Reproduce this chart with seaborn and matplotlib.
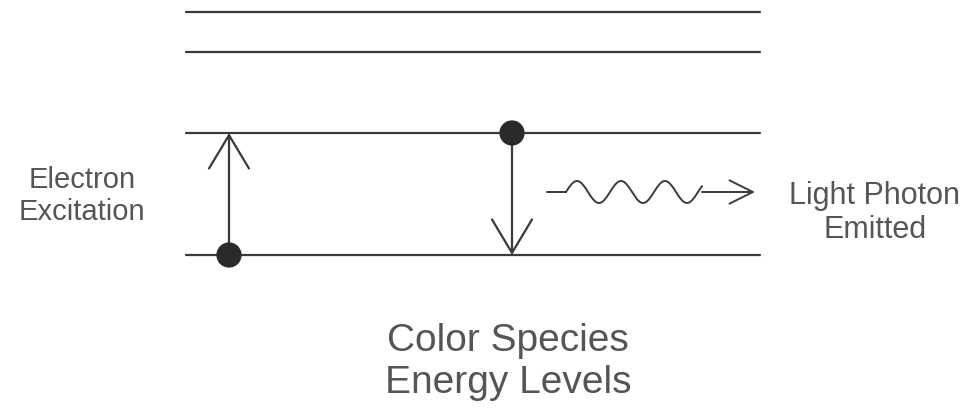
import numpy as np
import matplotlib.pyplot as plt
import seaborn as sns

# energy levels (pixel rows, top-down)
level_y = [12, 52, 133, 255]
level_x = [186, 760]

# electrons: excitation (bottom) and emission (upper)
dot_x = [229, 512]
dot_y = [255, 133]

# transitions: (x, y_start, y_end)
excite = (229, 255, 133)
emit = (512, 133, 255)

# photon wave
wave_y = 192
wave_start, wave_left, wave_right, arrow_tip = 547, 566, 702, 755
wave_amp, wave_period = 11, 44

labels = {
    "Electron\nExcitation": (82, 196, 21, 1.15),
    "Light Photon\nEmitted": (875, 213, 22, 1.15),
    "Color Species\nEnergy Levels": (508, 362, 28, 1.2),
}

ink = "#3a3a3a"
text_col = "#555555"

sns.set_theme(style="white")
plt.rcParams["font.family"] = ["Liberation Sans", "DejaVu Sans"]

fig = plt.figure(figsize=(9.69, 4.08), dpi=100)
ax = fig.add_axes([0, 0, 1, 1])
ax.set_xlim(0, 969)
ax.set_ylim(408, 0)
ax.axis("off")

for y in level_y:
    sns.lineplot(x=level_x, y=[y, y], ax=ax, color=ink, lw=1.6)


def open_arrow(x, y0, y1):
    ax.annotate("", xy=(x, y1), xytext=(x, y0),
                arrowprops=dict(arrowstyle="->,head_length=2.0,head_width=1.2",
                                color=ink, lw=1.6, shrinkA=0, shrinkB=0))


open_arrow(*excite)
open_arrow(*emit)

sns.scatterplot(x=dot_x, y=dot_y, ax=ax, s=330, color="#2a2a2a",
                edgecolor="none", zorder=5)

# wavy photon
wx = np.linspace(wave_left, wave_right, 300)
wy = wave_y - wave_amp * np.sin(2 * np.pi * (wx - wave_left) / wave_period)
ax.plot([wave_start, wave_left], [wave_y, wave_y], color=ink, lw=1.4)
ax.plot(wx, wy, color=ink, lw=1.4)
ax.annotate("", xy=(arrow_tip, wave_y), xytext=(wave_right, wave_y),
            arrowprops=dict(arrowstyle="->,head_length=1.4,head_width=0.7",
                            color=ink, lw=1.4, shrinkA=0, shrinkB=0))

for txt, (x, y, size, ls) in labels.items():
    ax.text(x, y, txt, ha="center", va="center", fontsize=size,
            color=text_col, linespacing=ls)

fig.savefig("out.png", dpi=100, facecolor="white")
